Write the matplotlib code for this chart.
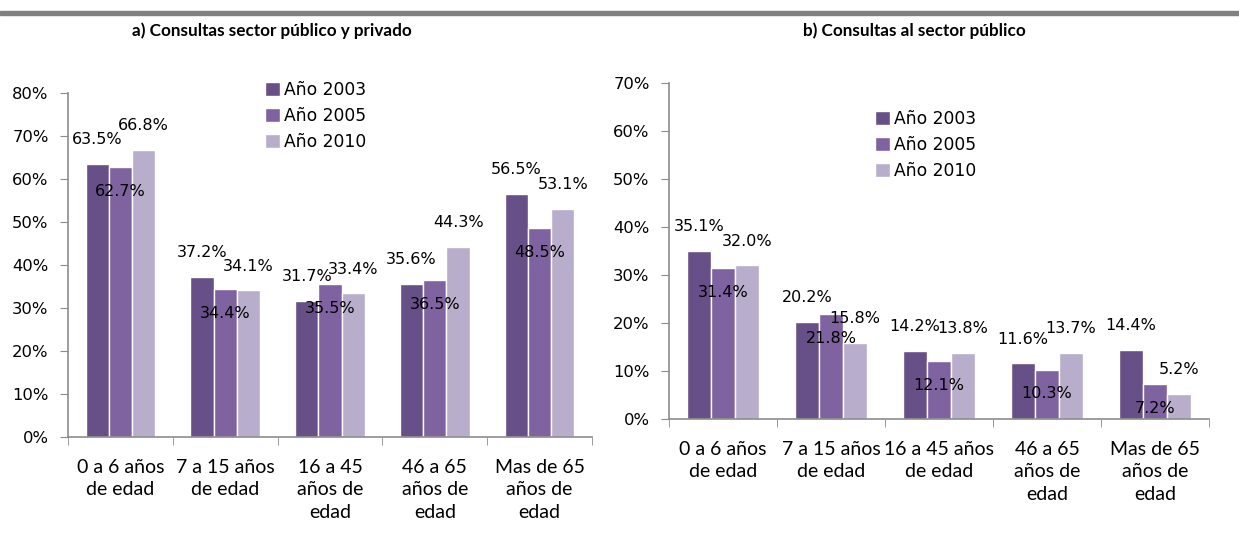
import numpy as np
import matplotlib
matplotlib.use('Agg')
import matplotlib.pyplot as plt
from matplotlib.patches import Rectangle

# grupos de edad
cats_a = ['0 a 6 años\nde edad', '7 a 15 años\nde edad', '16 a 45\naños de\nedad',
          '46 a 65\naños de\nedad', 'Mas de 65\naños de\nedad']
cats_b = ['0 a 6 años\nde edad', '7 a 15 años\nde edad', '16 a 45 años\nde edad',
          '46 a 65\naños de\nedad', 'Mas de 65\naños de\nedad']
years = ['Año 2003', 'Año 2005', 'Año 2010']

# a) consultas sector publico y privado (%)
a_2003 = [63.5, 37.2, 31.7, 35.6, 56.5]
a_2005 = [62.7, 34.4, 35.5, 36.5, 48.5]
a_2010 = [66.8, 34.1, 33.4, 44.3, 53.1]

# b) consultas al sector publico (%)
b_2003 = [35.1, 20.2, 14.2, 11.6, 14.4]
b_2005 = [31.4, 21.8, 12.1, 10.3, 7.2]
b_2010 = [32.0, 15.8, 13.8, 13.7, 5.2]

yticks_a = [0, 10, 20, 30, 40, 50, 60, 70, 80]
yticks_b = [0, 10, 20, 30, 40, 50, 60, 70]

colors = ['#674f87', '#7f62a0', '#b8adcb']
axis_col = '#8c8c8c'
num_font = 'DejaVu Sans'
txt_font = 'Lato'

W, H = 1239, 556
fig = plt.figure(figsize=(W / 100, H / 100), dpi=100)


def px_rect(x0, y0, x1, y1):
    # rectangulo en pixeles (origen arriba a la izquierda) -> fraccion de figura
    return [x0 / W, 1 - y1 / H, (x1 - x0) / W, (y1 - y0) / H]


def draw_panel(ax, cats, series, yticks, legend_xy):
    x = np.arange(len(cats))
    w = 0.222
    offs = [-w, 0, w]
    bars = []
    for k, vals in enumerate(series):
        b = ax.bar(x + offs[k], vals, w, color=colors[k], edgecolor='white',
                   linewidth=1.0, label=years[k], zorder=2)
        bars.append(b)
        # 2005 va dentro de la barra, el resto encima
        dy = -17.5 if k == 1 else 17.5
        for xi, v in zip(x + offs[k], vals):
            ax.annotate('%.1f%%' % v, (xi, v), xytext=(0, dy), textcoords='offset points',
                        ha='center', va='center', fontsize=11.5, family=num_font,
                        color='black', zorder=4)
    ax.set_xlim(-0.5, len(cats) - 0.5)
    ax.set_ylim(0, yticks[-1])
    ax.set_yticks(yticks)
    ax.set_yticklabels(['%d%%' % t for t in yticks], family=num_font, fontsize=11.8)
    ax.set_xticks(x)
    ax.set_xticklabels(cats, family=txt_font, fontsize=14, linespacing=1.37)
    ax.set_xticks(np.arange(len(cats) + 1) - 0.5, minor=True)
    ax.tick_params(axis='x', which='major', length=0, pad=16)
    ax.tick_params(axis='x', which='minor', length=6, color=axis_col, direction='out')
    ax.tick_params(axis='y', length=6, color=axis_col, direction='out', pad=8)
    for s in ['top', 'right']:
        ax.spines[s].set_visible(False)
    for s in ['left', 'bottom']:
        ax.spines[s].set_color(axis_col)
        ax.spines[s].set_linewidth(1.2)
    ax.legend(handles=bars, loc='upper left', frameon=False,
              bbox_to_anchor=(legend_xy[0] / W, 1 - legend_xy[1] / H),
              bbox_transform=fig.transFigure, prop={'family': num_font, 'size': 12.3},
              handlelength=0.85, handleheight=0.85, handletextpad=0.25, labelspacing=0.47,
              borderpad=0, borderaxespad=0)


ax1 = fig.add_axes(px_rect(68, 93, 592, 437))
draw_panel(ax1, cats_a, [a_2003, a_2005, a_2010], yticks_a, (265, 81))

ax2 = fig.add_axes(px_rect(669, 83, 1209, 419))
draw_panel(ax2, cats_b, [b_2003, b_2005, b_2010], yticks_b, (875, 110))

# linea gris superior y titulos
fig.add_artist(Rectangle((0, 1 - 15 / H), 1, 4 / H, transform=fig.transFigure,
                         color='#808080', zorder=5))
fig.text(272 / W, 1 - 31 / H, 'a) Consultas sector público y privado', ha='center',
         va='center', fontsize=12.3, fontweight='bold', family=txt_font)
fig.text(914 / W, 1 - 31 / H, 'b) Consultas al sector público', ha='center',
         va='center', fontsize=12.3, fontweight='bold', family=txt_font)

# el area de cada grafico corta la ultima linea de las etiquetas
fig.add_artist(Rectangle((0, 0), 615 / W, (H - 522) / H, transform=fig.transFigure,
                         color='white', zorder=6))
fig.add_artist(Rectangle((615 / W, 0), 1 - 615 / W, (H - 502) / H,
                         transform=fig.transFigure, color='white', zorder=6))

fig.savefig('out.png', dpi=100)
